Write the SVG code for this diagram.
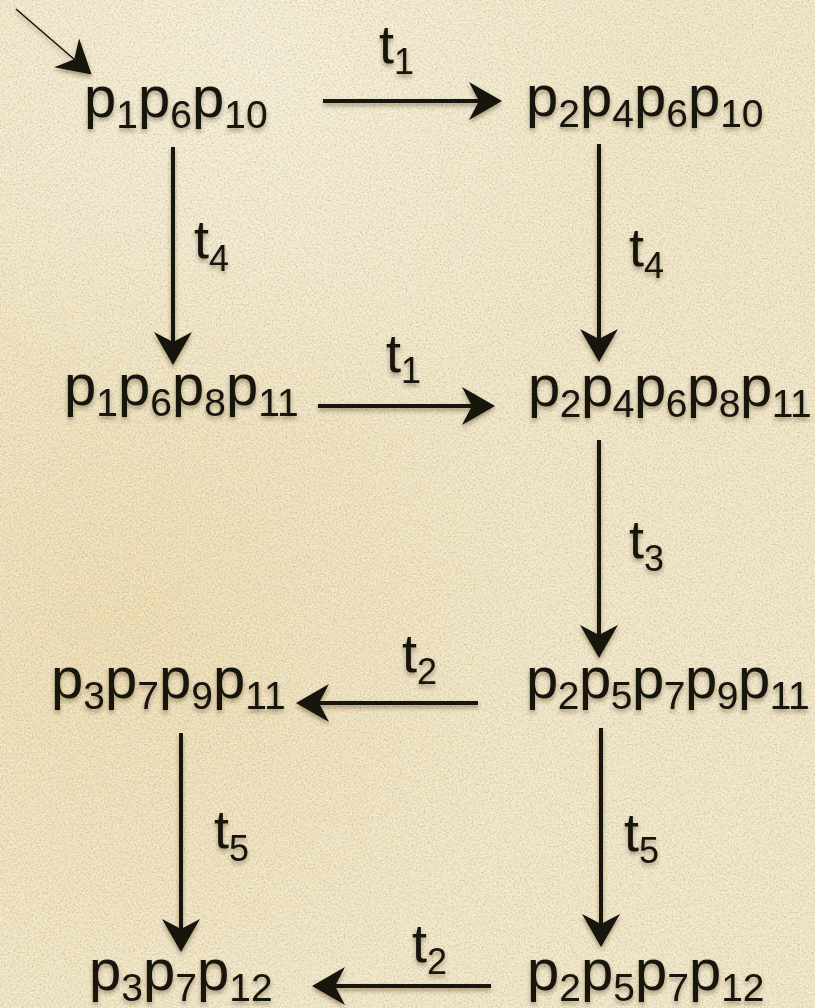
<svg xmlns="http://www.w3.org/2000/svg" width="815" height="1008" viewBox="0 0 815 1008">
<defs>
<style>
.n{font-family:"Liberation Sans",Arial,Helvetica,sans-serif;font-size:58px;fill:#141210;}
.n .s{font-size:39px;}
.t{letter-spacing:-0.5px;}
.l{font-family:"Liberation Sans",Arial,Helvetica,sans-serif;font-size:54px;fill:#141210;}
.l .s{font-size:36px;}
.e{stroke:#141210;stroke-width:4;fill:none;marker-end:url(#ah);}
.e0{stroke:#141210;stroke-width:1.5;fill:none;marker-end:url(#ah);}
</style>
<marker id="ah" markerUnits="userSpaceOnUse" markerWidth="60" markerHeight="60" viewBox="-30 -30 60 60" refX="0" refY="0" orient="auto" overflow="visible">
<path d="M22,0 L-11,-19 L-1,0 L-11,19 Z" fill="#141210"/>
</marker>
<filter id="sh" x="-10%" y="-20%" width="120%" height="150%">
<feDropShadow dx="0" dy="3" stdDeviation="2" flood-color="#3a2a10" flood-opacity="0.4"/>
</filter>
<filter id="grain" x="0" y="0" width="100%" height="100%">
<feTurbulence type="fractalNoise" baseFrequency="0.5" numOctaves="3" seed="7" result="n"/>
<feColorMatrix in="n" type="matrix" values="0 0 0 0 0.45  0 0 0 0 0.36  0 0 0 0 0.2  1.6 0 0 0 -0.68"/>
</filter>
<filter id="grainL" x="0" y="0" width="100%" height="100%">
<feTurbulence type="fractalNoise" baseFrequency="0.65" numOctaves="2" seed="21" result="n"/>
<feColorMatrix in="n" type="matrix" values="0 0 0 0 1  0 0 0 0 1  0 0 0 0 0.95  1.8 0 0 0 -0.75"/>
</filter>
<radialGradient id="warm" cx="120" cy="620" r="420" gradientUnits="userSpaceOnUse">
<stop offset="0" stop-color="#e8cf94" stop-opacity="0.5"/>
<stop offset="1" stop-color="#e8cf94" stop-opacity="0"/>
</radialGradient>
<radialGradient id="light" cx="250" cy="60" r="380" gradientUnits="userSpaceOnUse">
<stop offset="0" stop-color="#f8f2e0" stop-opacity="0.6"/>
<stop offset="1" stop-color="#f8f2e0" stop-opacity="0"/>
</radialGradient>
</defs>
<g id="background">
<rect width="815" height="1008" fill="#efe4c3"/>
<rect width="815" height="1008" fill="url(#warm)"/>
<rect width="815" height="1008" fill="url(#light)"/>
<rect width="815" height="1008" filter="url(#grain)" opacity="0.7"/>
<rect width="815" height="1008" filter="url(#grainL)" opacity="0.8"/>
</g>
<g id="connectors" filter="url(#sh)">
<line class="e0" x1="16" y1="9" x2="75" y2="60"/>
<line class="e" x1="323" y1="101" x2="480" y2="101"/>
<line class="e" x1="173" y1="147" x2="173" y2="343"/>
<line class="e" x1="599" y1="144" x2="599" y2="340"/>
<line class="e" x1="318" y1="406" x2="473" y2="406"/>
<line class="e" x1="599" y1="440" x2="599" y2="636"/>
<line class="e" x1="478" y1="703" x2="318" y2="703"/>
<line class="e" x1="181" y1="733" x2="181" y2="930"/>
<line class="e" x1="601" y1="728" x2="601" y2="925"/>
<line class="e" x1="491" y1="986" x2="334" y2="986"/>
<g class="labels">
<text class="l" x="379" y="63">t<tspan class="s" dy="11">1</tspan></text>
<text class="l" x="194" y="258">t<tspan class="s" dy="13">4</tspan></text>
<text class="l" x="629" y="266">t<tspan class="s" dy="12">4</tspan></text>
<text class="l" x="386" y="372">t<tspan class="s" dy="11">1</tspan></text>
<text class="l" x="629" y="558">t<tspan class="s" dy="13">3</tspan></text>
<text class="l" x="402" y="672">t<tspan class="s" dy="12">2</tspan></text>
<text class="l" x="214" y="848">t<tspan class="s" dy="13">5</tspan></text>
<text class="l" x="624" y="851">t<tspan class="s" dy="12">5</tspan></text>
<text class="l" x="412" y="962">t<tspan class="s" dy="12">2</tspan></text>
</g>
</g>
<g id="n1" filter="url(#sh)"><text class="n" x="84" y="117">p<tspan class="s" dy="11">1</tspan><tspan dy="-11">p</tspan><tspan class="s" dy="11">6</tspan><tspan dy="-11">p</tspan><tspan class="s" dy="11">10</tspan></text></g>
<g id="n2" filter="url(#sh)"><text class="n" x="526" y="116">p<tspan class="s" dy="11">2</tspan><tspan dy="-11">p</tspan><tspan class="s" dy="11">4</tspan><tspan dy="-11">p</tspan><tspan class="s" dy="11">6</tspan><tspan dy="-11">p</tspan><tspan class="s" dy="11">10</tspan></text></g>
<g id="n3" filter="url(#sh)"><text class="n" x="64" y="405">p<tspan class="s" dy="11">1</tspan><tspan dy="-11">p</tspan><tspan class="s" dy="11">6</tspan><tspan dy="-11">p</tspan><tspan class="s" dy="11">8</tspan><tspan dy="-11">p</tspan><tspan class="s" dy="11">11</tspan></text></g>
<g id="n4" filter="url(#sh)"><text class="n t" x="528" y="406">p<tspan class="s" dy="11">2</tspan><tspan dy="-11">p</tspan><tspan class="s" dy="11">4</tspan><tspan dy="-11">p</tspan><tspan class="s" dy="11">6</tspan><tspan dy="-11">p</tspan><tspan class="s" dy="11">8</tspan><tspan dy="-11">p</tspan><tspan class="s" dy="11">11</tspan></text></g>
<g id="n5" filter="url(#sh)"><text class="n" x="51" y="698">p<tspan class="s" dy="11">3</tspan><tspan dy="-11">p</tspan><tspan class="s" dy="11">7</tspan><tspan dy="-11">p</tspan><tspan class="s" dy="11">9</tspan><tspan dy="-11">p</tspan><tspan class="s" dy="11">11</tspan></text></g>
<g id="n6" filter="url(#sh)"><text class="n t" x="526" y="698">p<tspan class="s" dy="11">2</tspan><tspan dy="-11">p</tspan><tspan class="s" dy="11">5</tspan><tspan dy="-11">p</tspan><tspan class="s" dy="11">7</tspan><tspan dy="-11">p</tspan><tspan class="s" dy="11">9</tspan><tspan dy="-11">p</tspan><tspan class="s" dy="11">11</tspan></text></g>
<g id="n7" filter="url(#sh)"><text class="n" x="89" y="990">p<tspan class="s" dy="11">3</tspan><tspan dy="-11">p</tspan><tspan class="s" dy="11">7</tspan><tspan dy="-11">p</tspan><tspan class="s" dy="11">12</tspan></text></g>
<g id="n8" filter="url(#sh)"><text class="n" x="527" y="990">p<tspan class="s" dy="11">2</tspan><tspan dy="-11">p</tspan><tspan class="s" dy="11">5</tspan><tspan dy="-11">p</tspan><tspan class="s" dy="11">7</tspan><tspan dy="-11">p</tspan><tspan class="s" dy="11">12</tspan></text></g>
</svg>
